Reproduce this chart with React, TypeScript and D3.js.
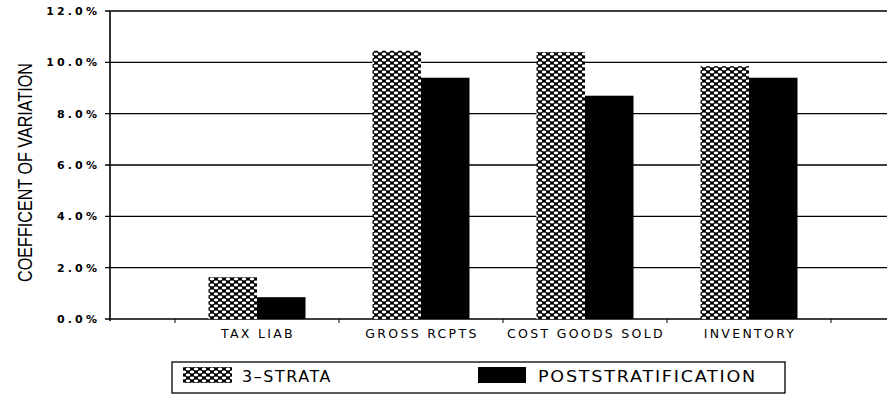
import React from "react";
import * as d3 from "d3";

const categories = ["TAX LIAB", "GROSS RCPTS", "COST GOODS SOLD", "INVENTORY"];
const seriesNames = ["3-STRATA", "POSTSTRATIFICATION"];
const strata3 = [1.63, 10.45, 10.4, 9.85];
const poststrat = [0.85, 9.4, 8.7, 9.4];
const yTicks = [0, 2, 4, 6, 8, 10, 12];

const W = 887;
const H = 397;
const left = 110;
const right = 887;
const top = 11;
const bottom = 319;

export default function App() {
  const y = d3.scaleLinear().domain([0, 12]).range([bottom, top]);
  const x = d3.scaleBand<string>().domain(categories).range([175, 831]).paddingInner(0).paddingOuter(0);
  const bw = 48.5;
  const sep = [0, 1, 2, 3, 4].map((i) => 175 + i * x.step());
  const font = "'DejaVu Sans', Verdana, sans-serif";
  return (
    <div style={{ position: "absolute", left: 0, top: 0 }}>
      <svg width={W} height={H} style={{ display: "block", background: "#fff" }}>
        <defs>
          <pattern id="hatch" width="8" height="6" patternUnits="userSpaceOnUse">
            <rect width="8" height="6" fill="#000" />
            <ellipse cx="4" cy="3" rx="2.3" ry="1.4" fill="#fff" />
            <ellipse cx="0" cy="0" rx="2.3" ry="1.4" fill="#fff" />
            <ellipse cx="8" cy="0" rx="2.3" ry="1.4" fill="#fff" />
            <ellipse cx="0" cy="6" rx="2.3" ry="1.4" fill="#fff" />
            <ellipse cx="8" cy="6" rx="2.3" ry="1.4" fill="#fff" />
          </pattern>
        </defs>
        {yTicks.map((t) => (
          <g key={t}>
            <line x1={left - 5} x2={right} y1={y(t)} y2={y(t)} stroke="#000" strokeWidth={1.4} />
            <text x={100} y={y(t) + 4} textAnchor="end" fontFamily={font} fontWeight="bold" fontSize={11} letterSpacing={3.1}>
              {t.toFixed(1)}%
            </text>
          </g>
        ))}
        <line x1={left} x2={left} y1={top} y2={bottom + 2} stroke="#000" strokeWidth={1.6} />
        {sep.map((s, i) => (
          <line key={i} x1={s} x2={s} y1={bottom} y2={bottom + 4} stroke="#000" strokeWidth={1} />
        ))}
        {categories.map((c, i) => {
          const cx = (x(c) as number) + x.bandwidth() / 2;
          return (
            <g key={c}>
              <rect x={cx - bw} y={y(strata3[i])} width={bw} height={bottom - y(strata3[i])} fill="url(#hatch)" />
              <rect x={cx} y={y(poststrat[i])} width={bw} height={bottom - y(poststrat[i])} fill="#000" />
              <text x={cx + 1} y={bottom + 19} textAnchor="middle" fontFamily={font} fontSize={12.5} letterSpacing={2.3}>
                {c}
              </text>
            </g>
          );
        })}
        <text
          transform={`translate(32,172.5) rotate(-90)`}
          textAnchor="middle"
          fontFamily="'Liberation Sans Narrow', 'Liberation Sans', Arial, sans-serif"
          fontSize={20}
          textLength={219}
          lengthAdjust="spacingAndGlyphs"
        >
          COEFFICENT OF VARIATION
        </text>
        <rect x={172} y={362} width={613} height={31} fill="none" stroke="#000" strokeWidth={1.3} />
        <rect x={183} y={367} width={49} height={16} fill="url(#hatch)" />
        <text x={242} y={382} fontFamily={font} fontSize={15} letterSpacing={1.5} textLength={90} lengthAdjust="spacingAndGlyphs">
          {seriesNames[0].replace("-", "\u2013")}
        </text>
        <rect x={478} y={367} width={48} height={16} fill="#000" />
        <text x={538} y={382} fontFamily={font} fontSize={15} letterSpacing={1.5} textLength={219} lengthAdjust="spacingAndGlyphs">
          {seriesNames[1]}
        </text>
      </svg>
    </div>
  );
}
